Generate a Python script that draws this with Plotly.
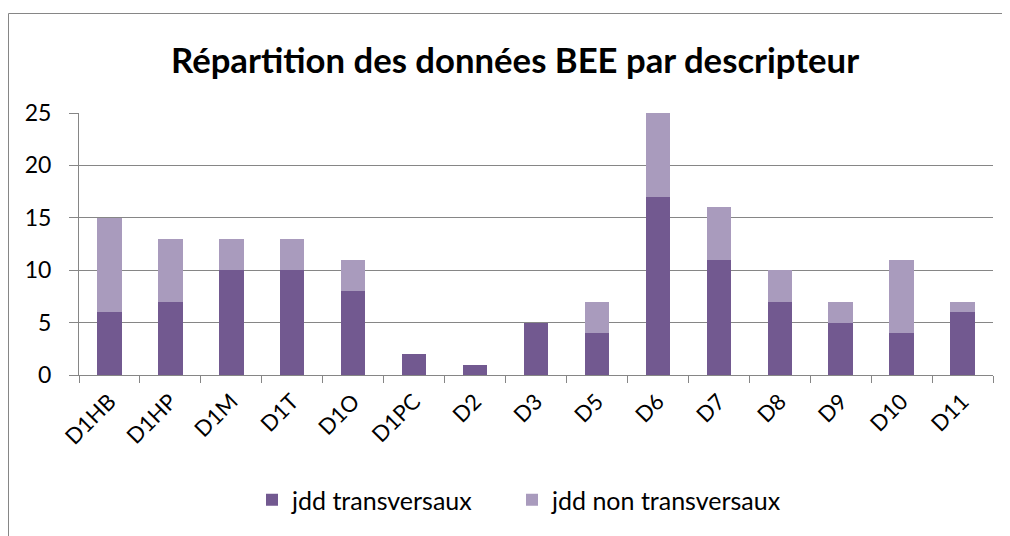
import plotly.graph_objects as go

categories = ["D1HB", "D1HP", "D1M", "D1T", "D1O", "D1PC", "D2", "D3", "D5", "D6", "D7", "D8", "D9", "D10", "D11"]
transversaux = [6, 7, 10, 10, 8, 2, 1, 5, 4, 17, 11, 7, 5, 4, 6]
non_transversaux = [9, 6, 3, 3, 3, 0, 0, 0, 3, 8, 5, 3, 2, 7, 1]
y_ticks = [0, 5, 10, 15, 20, 25]

# page body has an 8px margin, so the figure is placed 8px in from the window corner
OFF = 8
W, H = 1010 - OFF, 536 - OFF
PL, PR, PT, PB = 79, 993, 113, 375  # plot area in window coordinates
L, R, T, B = PL - OFF, W - (PR - OFF), PT - OFF, H - (PB - OFF)
pw, ph = PR - PL, PB - PT

def px(x):
    return (x - PL) / pw

def py(y):
    return (PB - y) / ph

FONT = "Lato, 'Open Sans', sans-serif"

fig = go.Figure()
fig.add_trace(go.Bar(x=categories, y=transversaux, name="jdd transversaux",
                     marker=dict(color="#725990", line=dict(width=0)), legend="legend"))
fig.add_trace(go.Bar(x=categories, y=non_transversaux, name="jdd non transversaux",
                     marker=dict(color="#A99BBD", line=dict(width=0)), legend="legend2"))

leg_common = dict(orientation="h", y=py(500), yanchor="middle", xanchor="left",
                  font=dict(size=25), itemwidth=30)

fig.update_layout(
    barmode="stack",
    bargap=0.6,
    width=W, height=H,
    margin=dict(l=L, r=R, t=T, b=B),
    paper_bgcolor="white",
    plot_bgcolor="white",
    font=dict(family=FONT, size=24, color="black"),
    showlegend=True,
    legend=dict(x=px(252), **leg_common),
    legend2=dict(x=px(512), **leg_common),
    xaxis=dict(
        type="category", tickson="boundaries", ticks="outside", ticklen=7,
        tickcolor="#868686", showline=True, linecolor="#868686", linewidth=1,
        showgrid=False, tickangle=-45, tickfont=dict(size=22), automargin=False,
        ticklabelstandoff=4,
        range=[-0.5, len(categories) - 0.5],
    ),
    yaxis=dict(
        range=[0, 25], tickvals=y_ticks, ticks="outside", ticklen=9,
        tickcolor="#868686", showline=True, linecolor="#868686", linewidth=1,
        showgrid=True, gridcolor="#868686", gridwidth=1, zeroline=False,
        tickfont=dict(size=23), automargin=False, ticklabelstandoff=13,
    ),
    shapes=[dict(type="rect", xref="paper", yref="paper",
                 x0=px(8.5), x1=px(1020), y0=py(545), y1=py(13.5),
                 line=dict(color="#868686", width=1), fillcolor="rgba(0,0,0,0)",
                 layer="below")],
    annotations=[dict(text="<b>Répartition des données BEE par descripteur</b>",
                      xref="paper", yref="paper", x=px(515), y=py(59),
                      xanchor="center", yanchor="middle", showarrow=False,
                      font=dict(size=34.7, family=FONT, color="black"))],
)

fig.write_html("out.html")
